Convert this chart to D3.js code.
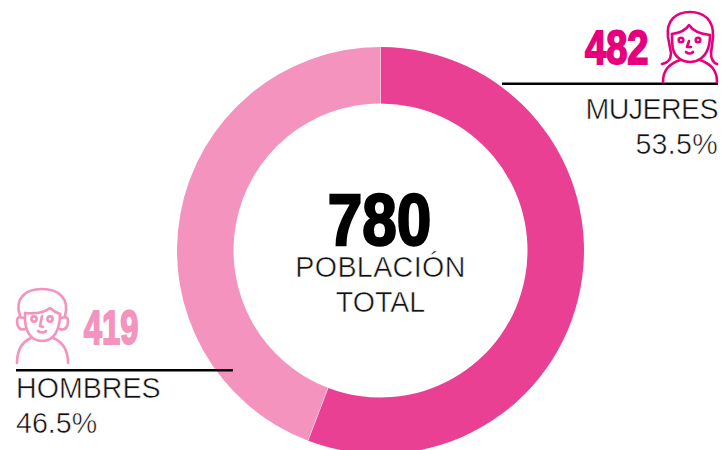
<!DOCTYPE html>
<html><head><meta charset="utf-8">
<script src="https://cdn.jsdelivr.net/npm/d3@7"></script>
<style>
html,body{margin:0;padding:0;background:#fff}
svg{display:block}
.lab{font-family:"Liberation Sans",sans-serif;font-weight:400;font-size:28.6px;fill:#111;stroke:#fff;stroke-width:.5}
.num{font-family:"Liberation Sans",sans-serif;font-weight:700}
</style></head><body>
<svg id="c" width="723" height="450"></svg>
<script>
const categories=["MUJERES","HOMBRES"];
const counts=[482,419];
const percentLabels=["53.5%","46.5%"];
const drawnShares=[55.8,44.2];
const colors=["#EA4094","#F393BE"];
const numberColors=["#E6007E","#F393BE"];
const totalValue=780;
const totalLabel=["POBLACIÓN","TOTAL"];

const svg=d3.select("#c");
const g=svg.append("g").attr("transform","translate(380.5,250.5)");
const pie=d3.pie().sort(null).padAngle(0.002)(drawnShares);
const arc=d3.arc().innerRadius(147).outerRadius(203.5);
g.selectAll("path").data(pie).join("path").attr("d",arc).attr("fill",(d,i)=>colors[i]);

function num(t,x,y,size,anchor,fill,sx,sw){
  svg.append("text").attr("class","num")
    .attr("transform",`translate(${x},${y}) scale(${sx},1)`)
    .attr("text-anchor",anchor).attr("font-size",size).attr("fill",fill)
    .attr("stroke",fill).attr("stroke-width",sw).text(t);
}
function lab(t,x,y,anchor,ls){
  svg.append("text").attr("class","lab").attr("x",x).attr("y",y).attr("text-anchor",anchor).attr("letter-spacing",ls||0).text(t);
}
// centre
num(totalValue,379.5,245,73,"middle","#000",0.85,2.4);
lab(totalLabel[0],380.5,277,"middle",0.4);
lab(totalLabel[1],380.5,312,"middle");

// women
num(counts[0],648.5,64,47.5,"end",numberColors[0],0.8,1.9);
svg.append("line").attr("x1",502).attr("x2",718).attr("y1",83.7).attr("y2",83.7).attr("stroke","#000").attr("stroke-width",2.5);
lab(categories[0],718,119,"end",-0.6);
lab(percentLabels[0],718,153.5,"end",0.3);

// men
num(counts[1],138.5,343.5,47.5,"end",numberColors[1],0.69,1.9);
svg.append("line").attr("x1",16).attr("x2",233).attr("y1",370.3).attr("y2",370.3).attr("stroke","#000").attr("stroke-width",2.5);
lab(categories[1],16,397.5,"start");
lab(percentLabels[1],16,433,"start");

// woman icon
const wi=svg.append("g").attr("fill","none").attr("stroke",numberColors[0]).attr("stroke-width",2.6).attr("stroke-linecap","round").attr("stroke-linejoin","round");
wi.append("path").attr("d","M662 64 C668 63 671 60 671 53 L668 37 C666 20 676 12 690 12 C704 12 714 20 713 37 L711 53 C711 60 714 63 717 64");
wi.append("path").attr("d","M672 34 C680 33 686 30 689 25 C693 31 700 34 710 35");
wi.append("path").attr("d","M672 34 C672 46 672 54 680 59 C686 63 694 63 700 59 C708 54 710 46 710 35");
wi.append("path").attr("d","M680 60 C669 64 663 70 663 82 M700 60 C711 64 717 70 717 82");
wi.append("path").attr("d","M689 41 L687 47 L691 47 M686 52 C688 54 691 54 693 52");
wi.append("circle").attr("cx",681).attr("cy",40).attr("r",2.3);
wi.append("circle").attr("cx",698).attr("cy",40).attr("r",2.3);

// man icon
const mi=svg.append("g").attr("fill","none").attr("stroke",numberColors[1]).attr("stroke-width",2.6).attr("stroke-linecap","round").attr("stroke-linejoin","round");
mi.append("path").attr("d","M20 316 C14 298 26 289 42 289 C58 289 70 298 65 316");
mi.append("path").attr("d","M25 313 C35 314 44 313 50 308 C53 311 57 313 60 314");
mi.append("path").attr("d","M25 313 C24 330 30 341 42 341 C54 341 60 330 60 314");
mi.append("path").attr("d","M24 318 C18 316 17 318 17 321 C17 327 20 331 25 329 M61 318 C67 316 68 318 68 321 C68 327 65 331 60 329");
mi.append("path").attr("d","M31 338 C22 342 17 350 17 363 M53 338 C63 342 68 350 68 363");
mi.append("path").attr("d","M42 316 L40 326 L43 327 M38 331 C40 333 44 333 46 331");
mi.append("circle").attr("cx",34).attr("cy",319).attr("r",2.6);
mi.append("circle").attr("cx",50).attr("cy",319).attr("r",2.6);
</script></body></html>
